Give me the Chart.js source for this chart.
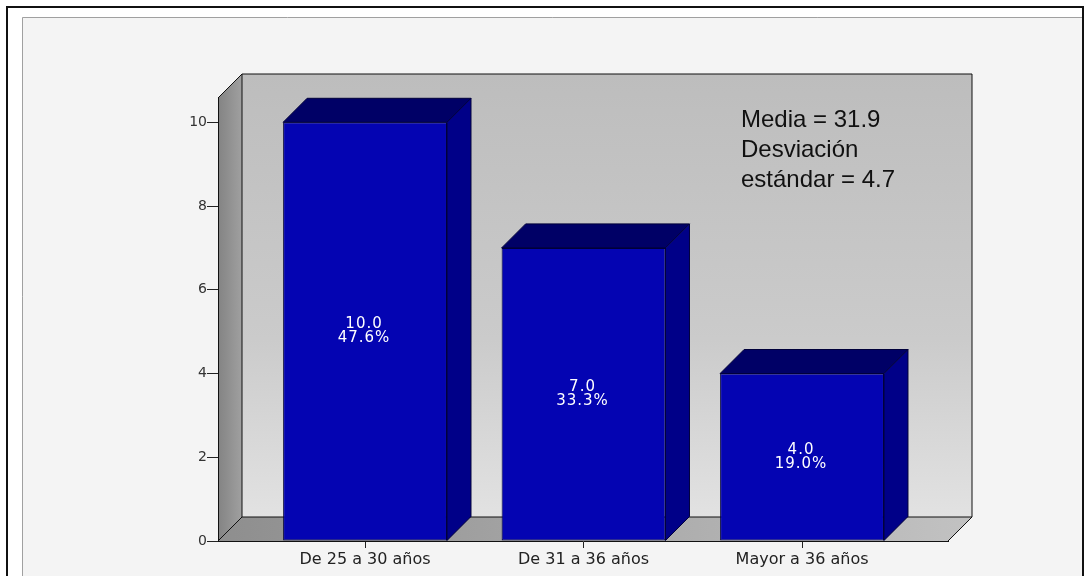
<!DOCTYPE html>
<html>
<head>
<meta charset="utf-8">
<script src="https://cdn.jsdelivr.net/npm/chart.js@4/dist/chart.umd.min.js"></script>
<style>
    html, body { margin: 0; padding: 0; background: #ffffff; }
    #wrap { width: 1090px; height: 576px; }
</style>
</head>
<body>
<div id="wrap"><canvas id="barChart" width="1090" height="576"></canvas></div>
<script>
const ageGroups = ['De 25 a 30 años', 'De 31 a 36 años', 'Mayor a 36 años'];
const counts    = [10, 7, 4];
const yTicks    = [0, 2, 4, 6, 8, 10];
const summary   = ['Media = 31.9', 'Desviación', 'estándar = 4.7'];

const total = counts.reduce((a, b) => a + b, 0);

const FRONT = '#0404b2';
const TOP   = '#000066';
const SIDE  = '#000088';
const EDGE  = '#00003a';
const INK   = '#222222';
const DEPTH = 24;   // 3d offset of walls and bars

// ── walls, floor and frame ──
const box3d = {
    id: 'box3d',
    beforeDraw(chart) {
        const { ctx, chartArea: a, width, height } = chart;
        const d = DEPTH;
        ctx.save();

        ctx.fillStyle = '#ffffff';
        ctx.fillRect(0, 0, width, height);
        ctx.fillStyle = '#f4f4f4';
        ctx.fillRect(22, 17, 1061, height);
        ctx.strokeStyle = '#a0a0a0';
        ctx.lineWidth = 1;
        ctx.beginPath();
        ctx.moveTo(22.5, height);
        ctx.lineTo(22.5, 17.5);
        ctx.lineTo(1083, 17.5);
        ctx.stroke();
        ctx.strokeStyle = '#111111';
        ctx.lineWidth = 2;
        ctx.strokeRect(7, 7, 1076, height + 10);

        // back wall
        let g = ctx.createLinearGradient(0, a.top - d, 0, a.bottom - d);
        g.addColorStop(0, '#bdbdbd');
        g.addColorStop(0.6, '#cbcbcb');
        g.addColorStop(1, '#e2e2e2');
        ctx.fillStyle = g;
        ctx.fillRect(a.left + d, a.top - d, a.right - a.left, a.bottom - a.top);

        // left wall
        g = ctx.createLinearGradient(a.left, 0, a.left + d, 0);
        g.addColorStop(0, '#838383');
        g.addColorStop(1, '#a0a0a0');
        ctx.fillStyle = g;
        ctx.beginPath();
        ctx.moveTo(a.left, a.bottom);
        ctx.lineTo(a.left, a.top);
        ctx.lineTo(a.left + d, a.top - d);
        ctx.lineTo(a.left + d, a.bottom - d);
        ctx.closePath();
        ctx.fill();

        // floor
        g = ctx.createLinearGradient(a.left, 0, a.right + d, 0);
        g.addColorStop(0, '#8e8e8e');
        g.addColorStop(1, '#c2c2c2');
        ctx.fillStyle = g;
        ctx.beginPath();
        ctx.moveTo(a.left, a.bottom);
        ctx.lineTo(a.right, a.bottom);
        ctx.lineTo(a.right + d, a.bottom - d);
        ctx.lineTo(a.left + d, a.bottom - d);
        ctx.closePath();
        ctx.fill();

        // edges
        ctx.strokeStyle = '#111111';
        ctx.lineWidth = 1;
        ctx.beginPath();
        ctx.moveTo(a.left, a.top);
        ctx.lineTo(a.left + d, a.top - d);
        ctx.lineTo(a.right + d, a.top - d);
        ctx.lineTo(a.right + d, a.bottom - d);
        ctx.lineTo(a.right, a.bottom);
        ctx.moveTo(a.left, a.bottom);
        ctx.lineTo(a.left + d, a.bottom - d);
        ctx.lineTo(a.right + d, a.bottom - d);
        ctx.moveTo(a.left + d, a.top - d);
        ctx.lineTo(a.left + d, a.bottom - d);
        ctx.stroke();

        ctx.restore();
    },

    // top and side faces of each bar, plus count / percent labels
    afterDatasetsDraw(chart) {
        const { ctx } = chart;
        const d = DEPTH;
        ctx.save();
        ctx.lineWidth = 1;
        ctx.strokeStyle = EDGE;
        chart.getDatasetMeta(0).data.forEach((bar, i) => {
            const { x, y, base, width } = bar.getProps(['x', 'y', 'base', 'width'], true);
            const l = x - width / 2;
            const r = x + width / 2;

            ctx.fillStyle = TOP;
            ctx.beginPath();
            ctx.moveTo(l, y);
            ctx.lineTo(r, y);
            ctx.lineTo(r + d, y - d);
            ctx.lineTo(l + d, y - d);
            ctx.closePath();
            ctx.fill();
            ctx.stroke();

            ctx.fillStyle = SIDE;
            ctx.beginPath();
            ctx.moveTo(r, y);
            ctx.lineTo(r + d, y - d);
            ctx.lineTo(r + d, base - d);
            ctx.lineTo(r, base);
            ctx.closePath();
            ctx.fill();
            ctx.stroke();

            const mid = (y + base) / 2;
            const v = counts[i];
            ctx.fillStyle = '#ffffff';
            ctx.font = '15px "DejaVu Sans", sans-serif';
            ctx.letterSpacing = '1px';
            ctx.textAlign = 'center';
            ctx.textBaseline = 'middle';
            ctx.fillText(v.toFixed(1), x - 1, mid - 7);
            ctx.fillText((v / total * 100).toFixed(1) + '%', x - 1, mid + 7);
        });
        ctx.restore();
    },

    afterDraw(chart) {
        const { ctx } = chart;
        ctx.save();
        ctx.fillStyle = '#111111';
        ctx.font = '24px "Liberation Sans", Arial, sans-serif';
        ctx.textAlign = 'left';
        ctx.textBaseline = 'alphabetic';
        summary.forEach((line, i) => ctx.fillText(line, 741, 127 + i * 30));
        ctx.restore();
    }
};

new Chart(document.getElementById('barChart'), {
    type: 'bar',
    data: {
        datasets: [{
            data: counts.map((v, i) => ({ x: i, y: v })),
            backgroundColor: FRONT,
            borderColor: EDGE,
            borderWidth: 1,
            borderSkipped: false,
            categoryPercentage: 1,
            barPercentage: 0.75
        }]
    },
    options: {
        responsive: false,
        animation: false,
        layout: { padding: { left: 0, right: 142, top: 98, bottom: 0 } },
        plugins: { legend: { display: false }, tooltip: { enabled: false } },
        scales: {
            x: {
                type: 'linear',
                min: -0.673,
                max: 2.668,
                offset: false,
                afterFit: s => { s.height = 35; },
                afterBuildTicks: s => { s.ticks = ageGroups.map((_, i) => ({ value: i })); },
                grid: { offset: false, drawOnChartArea: false, tickLength: 7, color: INK },
                border: { display: true, color: '#111111' },
                ticks: {
                    callback: v => ageGroups[v],
                    color: INK,
                    padding: 2,
                    maxRotation: 0,
                    autoSkip: false,
                    font: { family: "'DejaVu Sans', sans-serif", size: 16 }
                }
            },
            y: {
                min: 0,
                max: 10.58,
                afterFit: s => { s.width = 218; },
                afterBuildTicks: s => { s.ticks = yTicks.map(v => ({ value: v })); },
                grid: { drawOnChartArea: false, tickLength: 11, color: INK },
                border: { display: true, color: '#111111' },
                ticks: {
                    color: '#333333',
                    padding: 0,
                    font: { family: "'DejaVu Sans', sans-serif", size: 14 }
                }
            }
        }
    },
    plugins: [box3d]
});
</script>
</body>
</html>
